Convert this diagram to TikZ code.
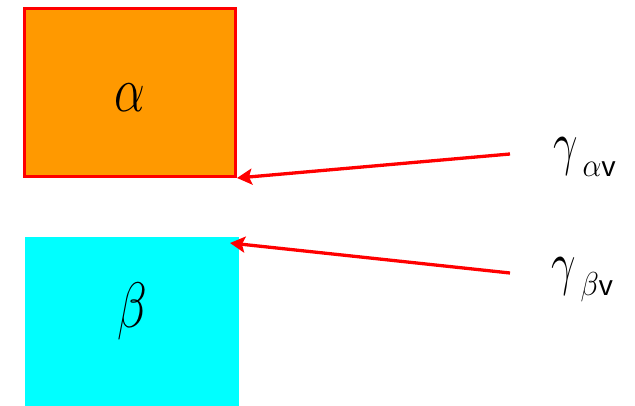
\documentclass[tikz,border=0pt]{standalone}
\usepackage{graphicx}
\usepackage{fontspec}
\newfontfamily\arialfont{Liberation Sans}
\usetikzlibrary{arrows.meta}
\definecolor{boxorange}{HTML}{FF9900}
\definecolor{boxcyan}{HTML}{00FFFF}
\definecolor{arrred}{HTML}{FF0000}
\newcommand{\bigsym}[1]{\scalebox{2.35}[3.1]{$#1$}}
\newcommand{\gsym}[1]{\scalebox{2.1}[2.9]{$#1$}}
\newcommand{\ssym}[1]{\scalebox{1.45}[1.6]{$#1$}}
\newcommand{\vsub}{{\fontsize{28}{32}\selectfont\arialfont v}}
\tikzset{
  phase/.style={rectangle, inner sep=0pt, font=\fontsize{20}{24}\selectfont},
  conn/.style={draw=arrred, line width=3.3pt, -{Stealth[length=15pt,width=16pt,inset=3pt]}},
  lbl/.style={inner sep=0pt, anchor=base west, font=\fontsize{20}{24}\selectfont}
}
\begin{document}
\begin{tikzpicture}[x=1pt,y=-1pt]
\useasboundingbox (0,0) rectangle (635,406);
\node[phase, fill=boxorange, draw=arrred, line width=3pt, minimum width=211pt, minimum height=168pt] (alpha) at (130,92.5) {\raisebox{-19pt}[0pt][0pt]{\bigsym{\alpha}}};
\node[phase, fill=boxcyan, minimum width=214pt, minimum height=169pt] (beta) at (132,321.5) {\raisebox{-6pt}[0pt][0pt]{\bigsym{\beta}}};
\node[lbl] (ga) at (553,164) {\gsym{\gamma}\hspace{5pt}\raisebox{-13pt}{\ssym{\alpha}\vsub}};
\node[lbl] (gb) at (551,284) {\gsym{\gamma}\hspace{5pt}\raisebox{-12pt}{\ssym{\beta}\vsub}};
\coordinate (sa) at (510,154);
\coordinate (sb) at (510,273);
\coordinate (tb) at (230,243);
\draw[conn] (sa) -- (alpha.south east);
\draw[conn] (sb) -- (tb);
\end{tikzpicture}
\end{document}
